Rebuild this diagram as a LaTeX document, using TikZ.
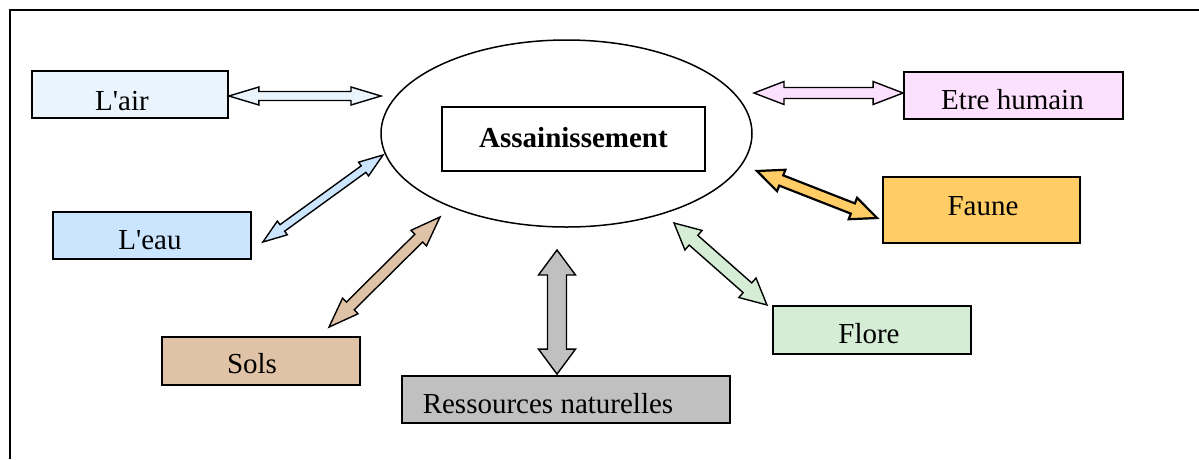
\documentclass[tikz,border=0pt]{standalone}
\usepackage{fontspec}
\setmainfont{Liberation Serif}
\usetikzlibrary{calc,shapes.geometric}

\definecolor{airfill}{HTML}{EAF4FD}
\definecolor{eaufill}{HTML}{CCE5FF}
\definecolor{humfill}{HTML}{FDE0FD}
\definecolor{faunefill}{HTML}{FFCC66}
\definecolor{florefill}{HTML}{D5EDD5}
\definecolor{solsfill}{HTML}{E0C2A6}
\definecolor{resfill}{HTML}{C0C0C0}

% double-headed block arrow between two points:
% #1 start, #2 end, #3 shaft half width, #4 head half width, #5 head length, #6 style
\newcommand\blockarrow[6]{%
  \path let \p1=(#1), \p2=(#2) in
    \pgfextra{%
      \pgfmathsetmacro\baang{atan2(\y2-\y1,\x2-\x1)}%
      \pgfmathsetmacro\balen{veclen(\x2-\x1,\y2-\y1)}%
      \global\let\baang\baang \global\let\balen\balen};
  \begin{scope}[shift={(#1)}, rotate=\baang, x=1pt, y=1pt]
    \draw[blockarrowline, #6] (0,0) -- (#5,#4) -- (#5,#3)
      -- ({\balen-#5},#3) -- ({\balen-#5},#4) -- (\balen,0)
      -- ({\balen-#5},-#4) -- ({\balen-#5},-#3) -- (#5,-#3)
      -- (#5,-#4) -- cycle;
  \end{scope}}

\tikzset{
  box/.style={draw=black, line width=1.8pt, rectangle, inner sep=0pt},
  lbl/.style={anchor=base, inner sep=0pt, font=\fontsize{29}{34}\selectfont},
  blockarrowline/.style={draw=black, line width=1.4pt, line join=miter},
}

\begin{document}
\begin{tikzpicture}[x=1pt, y=-1pt]
  \useasboundingbox (0,0) rectangle (1199,459);
  \fill[white] (0,0) rectangle (1199,459);

  % open frame
  \draw[line width=2pt] (10,459) -- (10,10) -- (1199,10);

  % centre
  \node (core) [draw, ellipse, line width=1.5pt, minimum width=371pt, minimum height=187pt, inner sep=0pt] at (566.5,133.5) {};
  \node (inner) [box, line width=1.5pt, minimum width=263pt, minimum height=64pt] at (573.5,139) {};
  \node[lbl, font=\fontsize{29}{34}\selectfont\bfseries] at ($(inner.center)+(0,8)$) {Assainissement};

  % surrounding boxes
  \node (air) [box, fill=airfill, minimum width=196pt, minimum height=47pt] at (130,94.5) {};
  \node[lbl] at ($(air.center)+(-8,15.5)$) {L\textquotesingle air};

  \node (hum) [box, fill=humfill, minimum width=219pt, minimum height=47pt] at (1013.5,95.5) {};
  \node[lbl] at ($(hum.center)+(-1,13.5)$) {Etre humain};

  \node (faune) [box, fill=faunefill, minimum width=197pt, minimum height=66pt] at (981.5,210) {};
  \node[lbl] at ($(faune.center)+(1.5,5)$) {Faune};

  \node (eau) [box, fill=eaufill, minimum width=198pt, minimum height=47pt] at (152,235.5) {};
  \node[lbl] at ($(eau.center)+(-2,13.5)$) {L\textquotesingle eau};

  \node (sols) [box, fill=solsfill, minimum width=198pt, minimum height=48pt] at (261,361) {};
  \node[lbl] at ($(sols.center)+(-9,12)$) {Sols};

  \node (res) [box, fill=resfill, minimum width=328pt, minimum height=47pt] at (566,399.5) {};
  \node[lbl] at ($(res.center)+(-18,13.5)$) {Ressources naturelles};

  \node (flore) [box, fill=florefill, minimum width=198pt, minimum height=48pt] at (872,330) {};
  \node[lbl] at ($(flore.center)+(-3,13)$) {Flore};

  % connectors
  \blockarrow{$(air.east)+(0,1.5)$}{$(core.center)+(-185.5,-37.5)$}{4.5}{9}{30}{fill=airfill}
  \blockarrow{$(core.center)+(187.5,-40.5)$}{$(hum.west)+(0,-2.5)$}{5.5}{11.5}{30}{fill=humfill}
  \blockarrow{$(core.center)+(190.5,37.5)$}{$(faune.west)+(-5,8)$}{5.5}{11.5}{26}{fill=faunefill, line width=2.2pt}
  \blockarrow{$(eau.east)+(11,6.5)$}{$(core.center)+(-183.5,21.5)$}{4}{8.5}{24}{fill=eaufill}
  \blockarrow{$(sols.north)+(68,-9)$}{$(core.center)+(-126.5,83.5)$}{5.5}{11}{30}{fill=solsfill}
  \blockarrow{$(core.center)+(-9.5,116.5)$}{$(res.north)+(-9,-1)$}{9.5}{18.5}{25}{fill=resfill}
  \blockarrow{$(core.center)+(107.5,89.5)$}{$(flore.north west)+(-5,0)$}{6.5}{13}{26}{fill=florefill}
\end{tikzpicture}
\end{document}
